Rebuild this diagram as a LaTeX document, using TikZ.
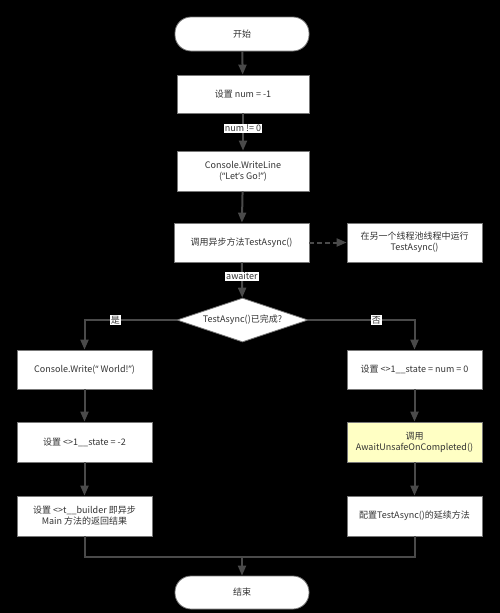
\documentclass[tikz,border=0pt]{standalone}
\usepackage{fontspec}
\setmainfont{Noto Sans CJK SC}
\newfontfamily\latq{Noto Sans}
\usetikzlibrary{arrows.meta,shapes.geometric,positioning}
\definecolor{linec}{HTML}{4A4A4A}
\definecolor{txtc}{HTML}{333333}
\definecolor{boxb}{HTML}{777777}
\definecolor{yel}{HTML}{FFFFC4}
\newcommand{\myLq}{{\latq “}}
\newcommand{\myRq}{{\latq ”}}
\newcommand{\myApo}{{\latq ’}}
\begin{document}
\begin{tikzpicture}[x=1pt,y=-1pt,
  font=\fontsize{9}{11}\selectfont,
  base/.style={draw=boxb,line width=0.8pt,fill=white,text=txtc,align=center,inner sep=0pt},
  procbox/.style={base,rectangle,minimum width=135pt,minimum height=39pt},
  termbox/.style={base,rectangle,rounded corners=16pt,minimum width=134pt,minimum height=34pt},
  decbox/.style={base,diamond,aspect=3,minimum width=131pt,minimum height=44pt,inner sep=0pt},
  conn/.style={draw=linec,line width=2pt,-{Triangle[width=8pt,length=10pt]}},
  plainconn/.style={draw=linec,line width=2pt},
  elabel/.style={fill=white,text=txtc,inner sep=1pt,font=\fontsize{9}{10}\selectfont}
]
\fill[black] (0,0) rectangle (500,613);
\useasboundingbox (0,0) rectangle (500,613);

\node[termbox] (start) at (242,34) {开始};
\node[procbox,minimum width=132pt,minimum height=38pt] (n1) at (243,94) {设置 num = -1};
\node[procbox,minimum width=132pt,minimum height=40pt] (n2) at (243,171) {Console.WriteLine\\(\myLq Let\myApo s Go!\myRq)};
\node[procbox] (n3) at (241.5,242.5) {调用异步方法TestAsync()};
\node[procbox] (side) at (414.5,242.5) {在另一个线程池线程中运行\\TestAsync()};
\node[decbox] (dec) at (242.5,320) {TestAsync()已完成?};

\node[procbox] (l1) at (84.5,369.5) {Console.Write(\myLq\ World!\myRq)};
\node[procbox,minimum height=40pt] (l2) at (84.5,442) {设置 <>1\_\_state = -2};
\node[procbox,minimum height=40pt] (l3) at (84.5,516) {设置 <>t\_\_builder 即异步\\Main 方法的返回结果};

\node[procbox] (r1) at (414.5,369.5) {设置 <>1\_\_state = num = 0};
\node[procbox,minimum height=40pt,fill=yel] (r2) at (414.5,442) {调用\\AwaitUnsafeOnCompleted()};
\node[procbox,minimum height=40pt] (r3) at (414.5,516) {配置TestAsync()的延续方法};

\node[termbox,minimum height=33pt] (stop) at (242,592.5) {结束};
\coordinate (join) at (242,557);

\draw[conn] (start) -- (n1);
\draw[conn] (n1) -- node[elabel,pos=0.4] {num != 0} (n2);
\draw[conn] (n2) -- (n3);
\draw[conn,dash pattern=on 5pt off 3pt] (n3) -- (side);
\draw[conn] (n3) -- node[elabel,pos=0.4] {awaiter} (dec);

\draw[conn] (dec.west) -| node[elabel,pos=0.333] {是} (l1.north);
\draw[conn] (dec.east) -| node[elabel,pos=0.32] {否} (r1.north);

\draw[conn] (l1) -- (l2);
\draw[conn] (l2) -- (l3);
\draw[conn] (r1) -- (r2);
\draw[conn] (r2) -- (r3);

\draw[plainconn] (l3.south) |- (join);
\draw[plainconn] (r3.south) |- (join);
\draw[conn] (join) -- (stop);
\end{tikzpicture}
\end{document}
